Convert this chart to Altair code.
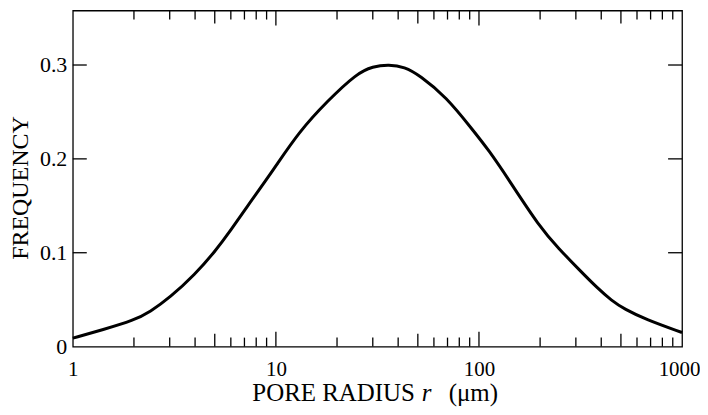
import altair as alt
import pandas as pd

# Curve data
radius = [1, 1.41, 2, 2.4, 3, 4, 5, 6, 7.2, 9.7, 13, 18, 25, 30, 36, 43, 51, 69, 93, 112, 141, 198, 248, 311, 380,
          450, 520, 662, 1000]
freq = [0.009, 0.018, 0.028, 0.037, 0.052, 0.077, 0.101, 0.124, 0.149, 0.188, 0.229, 0.262, 0.291, 0.2985, 0.3005,
        0.298, 0.289, 0.266, 0.231, 0.209, 0.177, 0.128, 0.104, 0.082, 0.063, 0.049, 0.040, 0.029, 0.015]

x_labels = [1, 10, 100, 1000]
y_labels = [0, 0.1, 0.2, 0.3]
minor_ticks = [2, 3, 4, 6, 7, 8, 9, 20, 30, 40, 60, 70, 80, 90, 200, 300, 400, 600, 700, 800, 900]
medium_ticks = [5, 50, 500]
major_ticks = [10, 100]
y_ticks = [0.1, 0.2, 0.3]

W, H = 611, 337
FONT = "Liberation Serif"

xscale = alt.Scale(type="log", domain=[1, 1000], nice=False)
yscale = alt.Scale(domain=[0, 0.358], nice=False, zero=False)

xaxis = alt.Axis(values=x_labels, format="d", ticks=False, tickSize=0, domain=False, grid=False,
                 labelFont=FONT, labelFontSize=21, labelColor="black", labelPadding=12, title=None,
                 labelFlush=False, labelOverlap=False,
                 labelOffset={"condition": {"test": "datum.value == 1000", "value": -3}, "value": 0})
yaxis = alt.Axis(values=y_labels, format=".1~f", ticks=False, tickSize=0, domain=False, grid=False,
                 labelFont=FONT, labelFontSize=22, labelColor="black", labelPadding=6, title=None,
                 labelOverlap=False)

df = pd.DataFrame({"r": radius, "f": freq})

line = alt.Chart(df).mark_line(color="black", strokeWidth=3, interpolate="basis").encode(
    x=alt.X("r:Q", scale=xscale, axis=xaxis),
    y=alt.Y("f:Q", scale=yscale, axis=yaxis),
)

layers = [line]

def xtick_layers(vals, length):
    d = pd.DataFrame({"r": vals})
    bottom = alt.Chart(d).mark_rule(color="black", strokeWidth=1.3).encode(
        x=alt.X("r:Q", scale=xscale, axis=xaxis),
        y=alt.value(H), y2=alt.value(H - length))
    top = alt.Chart(d).mark_rule(color="black", strokeWidth=1.3).encode(
        x=alt.X("r:Q", scale=xscale, axis=xaxis),
        y=alt.value(0), y2=alt.value(length))
    return [bottom, top]

layers += xtick_layers(minor_ticks, 9)
layers += xtick_layers(medium_ticks, 13)
layers += xtick_layers(major_ticks, 15)

dy = pd.DataFrame({"f": y_ticks})
layers.append(alt.Chart(dy).mark_rule(color="black", strokeWidth=1.3).encode(
    y=alt.Y("f:Q", scale=yscale, axis=yaxis), x=alt.value(0), x2=alt.value(14)))
layers.append(alt.Chart(dy).mark_rule(color="black", strokeWidth=1.3).encode(
    y=alt.Y("f:Q", scale=yscale, axis=yaxis), x=alt.value(W), x2=alt.value(W - 14)))

one = pd.DataFrame({"a": [0]})
layers.append(alt.Chart(one).mark_text(text="PORE RADIUS", font=FONT, fontSize=25, align="left",
                                       baseline="alphabetic", color="black").encode(
    x=alt.value(180), y=alt.value(392)))
layers.append(alt.Chart(one).mark_text(text="r", font=FONT, fontSize=25, fontStyle="italic", align="left",
                                       baseline="alphabetic", color="black").encode(
    x=alt.value(350), y=alt.value(392)))
layers.append(alt.Chart(one).mark_text(text="(μm)", font=FONT, fontSize=25, align="left",
                                       baseline="alphabetic", color="black").encode(
    x=alt.value(377), y=alt.value(392)))
layers.append(alt.Chart(one).mark_text(text="FREQUENCY", font=FONT, fontSize=24, angle=270, align="center",
                                       baseline="middle", color="black").encode(
    x=alt.value(-52), y=alt.value(178)))

chart = alt.layer(*layers).properties(
    width=W, height=H,
    autosize=alt.AutoSizeParams(type="none"),
    padding={"left": 65, "top": 2, "right": 18, "bottom": 60},
).configure(background="white").configure_view(stroke="black", strokeWidth=1.3)

chart.save("out.html", embed_options={"renderer": "svg", "actions": False})
